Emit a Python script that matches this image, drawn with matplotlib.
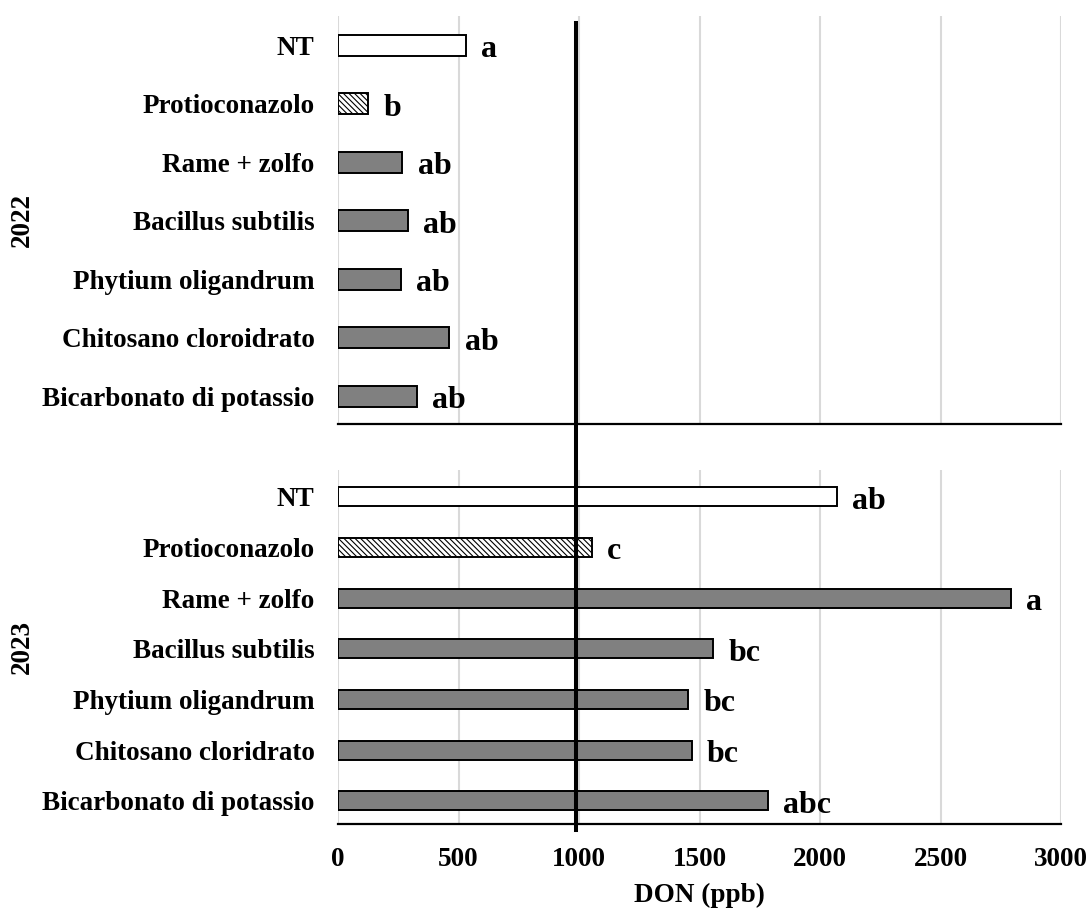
import matplotlib
matplotlib.use("Agg")
import matplotlib.pyplot as plt
import matplotlib.transforms as mtransforms

plt.rcParams['font.family'] = ['Liberation Serif', 'DejaVu Serif']
plt.rcParams['font.weight'] = 'bold'
plt.rcParams['hatch.linewidth'] = 0.8

cats_2022 = ["Bicarbonato di potassio", "Chitosano cloroidrato", "Phytium oligandrum",
             "Bacillus subtilis", "Rame + zolfo", "Protioconazolo", "NT"]
vals_2022 = [326, 462, 261, 289, 267, 126, 531]
letters_2022 = ["ab", "ab", "ab", "ab", "ab", "b", "a"]

cats_2023 = ["Bicarbonato di potassio", "Chitosano cloridrato", "Phytium oligandrum",
             "Bacillus subtilis", "Rame + zolfo", "Protioconazolo", "NT"]
vals_2023 = [1785, 1467, 1453, 1557, 2791, 1054, 2070]
letters_2023 = ["abc", "bc", "bc", "bc", "a", "c", "ab"]

xticks = [0, 500, 1000, 1500, 2000, 2500, 3000]
threshold = 988

W, H = 1091, 908
fig = plt.figure(figsize=(W / 100, H / 100), dpi=100)

def fx(px):
    return px / W

def fy(py):
    return 1 - py / H

left, right = fx(338), fx(1061)
ax1 = fig.add_axes([left, fy(424), right - left, fy(16) - fy(424)])
ax2 = fig.add_axes([left, fy(824), right - left, fy(470) - fy(824)])

LABEL_FS = 19.5
LETTER_FS = 23

def style(t):
    if t == "Protioconazolo":
        return dict(color="white", hatch="\\\\\\\\\\\\")
    if t == "NT":
        return dict(color="white")
    return dict(color="#808080")

for ax, cats, vals, lets, ylim, bh in [
        (ax1, cats_2022, vals_2022, letters_2022, (-0.47, 6.5), 0.36),
        (ax2, cats_2023, vals_2023, letters_2023, (-0.46, 6.53), 0.375)]:
    for i, (c, v, l) in enumerate(zip(cats, vals, lets)):
        st = style(c)
        ax.barh(i, v, height=bh, color=st["color"], hatch=st.get("hatch"),
                edgecolor="black", linewidth=1.4, zorder=3)
        ax.annotate(l, xy=(v, i), xytext=(11, -8.6), textcoords="offset points",
                    ha="left", va="baseline", fontsize=LETTER_FS, fontweight="bold", zorder=4)
    ax.set_yticks(range(len(cats)))
    ax.set_yticklabels(cats, fontsize=LABEL_FS, fontweight="bold")
    ax.set_ylim(*ylim)
    ax.set_xlim(0, 3000)
    ax.set_xticks(xticks)
    ax.xaxis.grid(True, color="#d9d9d9", linewidth=1.5, zorder=0)
    ax.set_axisbelow(True)
    for s in ["top", "right", "left"]:
        ax.spines[s].set_visible(False)
    ax.spines["bottom"].set_linewidth(1.6)
    ax.tick_params(axis="y", length=0, pad=17)
    ax.tick_params(axis="x", length=0)

ax1.set_xticklabels([])
ax2.set_xticklabels([str(t) for t in xticks], fontsize=LABEL_FS, fontweight="bold")
ax2.tick_params(axis="x", pad=16.5)
ax2.set_xlabel("DON (ppb)", fontsize=LABEL_FS, fontweight="bold", labelpad=8)

fig.text(fx(22), fy(220), "2022", rotation=90, ha="center", va="center",
         fontsize=LABEL_FS, fontweight="bold")
fig.text(fx(22), fy(647), "2023", rotation=90, ha="center", va="center",
         fontsize=LABEL_FS, fontweight="bold")

trans = mtransforms.blended_transform_factory(ax2.transData, fig.transFigure)
fig.add_artist(plt.Line2D([threshold, threshold], [fy(830), fy(23)], transform=trans,
                          color="black", linewidth=2.9, zorder=10))

fig.savefig("out.png", dpi=100)
